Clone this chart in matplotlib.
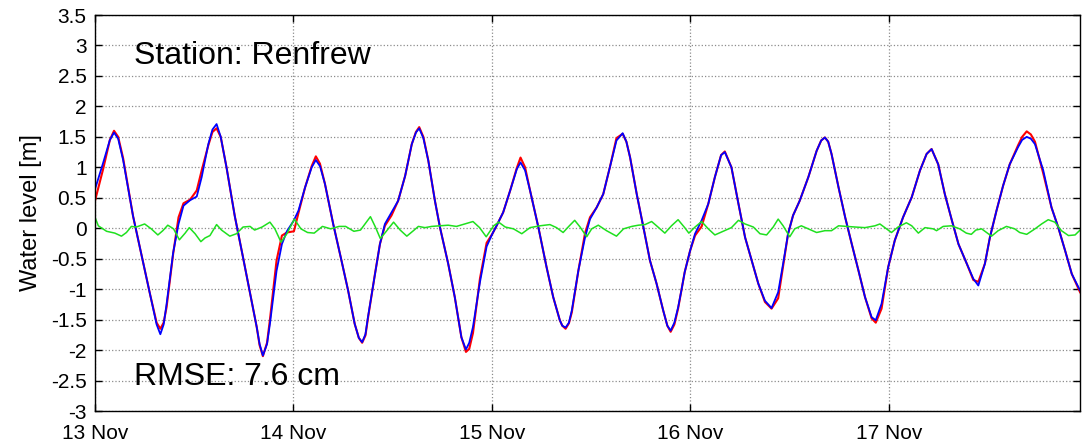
import numpy as np
import matplotlib
matplotlib.use("Agg")
import matplotlib.pyplot as plt

plt.rcParams["font.family"] = ["Liberation Sans", "DejaVu Sans"]

# hours since 13 Nov 00:00 (one line per day), water level in metres
hours = [0.0, 1.0, 1.8, 2.3, 2.8, 3.4, 4.6, 5.8, 6.65, 7.45, 7.9, 8.3, 8.65, 9.45, 10.1, 10.7, 11.5, 12.3, 12.9, 13.7, 14.2, 14.7, 15.2, 15.9, 16.9, 17.9, 18.75, 19.55, 19.9, 20.3, 20.8, 21.15, 21.95, 22.6, 23.2,
         24.05, 24.6, 25.4, 26.2, 26.7, 27.2, 27.8, 28.8, 29.8, 30.6, 31.4, 31.9, 32.3, 32.7, 33.0, 33.85, 34.45, 35.05, 35.85, 36.65, 37.5, 38.3, 38.8, 39.2, 39.7, 40.3, 41.1, 41.7, 42.7, 43.5, 44.3, 44.85, 45.25, 45.7, 46.55, 47.35,
         48.05, 48.55, 49.35, 50.2, 51.0, 51.45, 52.0, 52.6, 53.6, 54.6, 55.4, 56.2, 56.5, 56.9, 57.3, 57.65, 58.45, 59.25, 59.85, 60.65, 61.45, 62.25, 63.05, 63.8, 64.25, 64.7, 65.5, 66.3, 67.1, 67.9, 68.7, 69.2, 69.6, 70.05, 70.5, 70.9, 71.3,
         71.95, 72.55, 73.35, 74.15, 74.95, 75.7, 76.15, 76.95, 77.8, 78.6, 79.4, 80.2, 81.0, 81.8, 82.6, 83.2, 83.8, 84.4, 85.2, 86.25, 87.25, 87.8, 88.25, 88.65, 89.05, 89.9, 90.7, 91.5, 92.3, 93.1, 93.9, 94.4, 95.1, 95.9,
         96.7, 97.7, 98.75, 99.75, 100.55, 101.15, 101.95, 102.75, 103.6, 104.4, 105.4, 106.2, 106.8, 107.6, 108.2, 109.0, 109.8, 110.6, 111.6, 112.1, 112.65, 113.15, 113.65, 114.65, 115.65, 116.45, 117.3, 118.1, 119.1]

model = [0.64, 1.08, 1.45, 1.57, 1.47, 1.12, 0.20, -0.55, -1.08, -1.58, -1.74, -1.58, -1.25, -0.40, 0.07, 0.37, 0.46, 0.52, 0.84, 1.38, 1.62, 1.71, 1.50, 1.00, 0.20, -0.48, -1.07, -1.62, -1.90, -2.09, -1.90, -1.57, -0.70, -0.26, -0.05,
         0.13, 0.29, 0.67, 1.00, 1.12, 1.02, 0.73, 0.07, -0.53, -1.02, -1.57, -1.80, -1.87, -1.74, -1.46, -0.75, -0.26, 0.07, 0.26, 0.45, 0.86, 1.38, 1.57, 1.64, 1.48, 1.11, 0.45, 0.02, -0.58, -1.13, -1.79, -1.99, -1.88, -1.62, -0.88, -0.30,
         -0.09, 0.04, 0.26, 0.62, 0.97, 1.08, 0.95, 0.62, 0.02, -0.64, -1.13, -1.51, -1.60, -1.63, -1.55, -1.35, -0.69, -0.15, 0.15, 0.34, 0.56, 1.00, 1.44, 1.56, 1.42, 1.16, 0.56, 0.02, -0.53, -0.91, -1.35, -1.60, -1.68, -1.55, -1.30, -1.02, -0.72,
         -0.37, -0.09, 0.13, 0.40, 0.84, 1.20, 1.25, 1.00, 0.40, -0.15, -0.53, -0.91, -1.19, -1.31, -1.05, -0.58, -0.09, 0.21, 0.45, 0.84, 1.27, 1.44, 1.49, 1.42, 1.22, 0.67, 0.18, -0.26, -0.69, -1.13, -1.46, -1.51, -1.24, -0.64,
         -0.20, 0.18, 0.51, 0.95, 1.22, 1.30, 1.05, 0.56, 0.13, -0.26, -0.58, -0.83, -0.94, -0.58, -0.15, 0.29, 0.70, 1.05, 1.33, 1.45, 1.50, 1.47, 1.38, 0.95, 0.34, 0.02, -0.37, -0.75, -1.02]

observed = [0.45, 0.98, 1.45, 1.60, 1.50, 1.15, 0.20, -0.55, -1.08, -1.55, -1.65, -1.55, -1.30, -0.42, 0.18, 0.41, 0.47, 0.62, 0.95, 1.36, 1.58, 1.64, 1.50, 1.00, 0.20, -0.48, -1.07, -1.62, -1.92, -2.10, -1.88, -1.50, -0.53, -0.12, -0.07,
            -0.05, 0.25, 0.67, 1.02, 1.18, 1.06, 0.73, 0.07, -0.53, -1.02, -1.57, -1.80, -1.88, -1.76, -1.48, -0.75, -0.26, 0.04, 0.21, 0.45, 0.86, 1.38, 1.58, 1.66, 1.50, 1.11, 0.45, 0.02, -0.58, -1.13, -1.79, -2.03, -1.98, -1.72, -0.82, -0.24,
            -0.09, 0.04, 0.26, 0.62, 0.99, 1.16, 1.00, 0.62, 0.02, -0.64, -1.13, -1.51, -1.60, -1.65, -1.56, -1.38, -0.69, -0.08, 0.18, 0.34, 0.56, 1.00, 1.48, 1.55, 1.42, 1.16, 0.56, 0.02, -0.53, -0.91, -1.35, -1.60, -1.70, -1.58, -1.32, -1.02, -0.72,
            -0.37, -0.12, 0.03, 0.40, 0.84, 1.20, 1.26, 1.00, 0.40, -0.15, -0.53, -0.91, -1.21, -1.32, -1.15, -0.62, -0.09, 0.21, 0.45, 0.84, 1.27, 1.44, 1.49, 1.42, 1.22, 0.67, 0.18, -0.26, -0.69, -1.13, -1.48, -1.55, -1.32, -0.64,
            -0.20, 0.18, 0.51, 0.95, 1.22, 1.30, 1.05, 0.56, 0.13, -0.26, -0.58, -0.85, -0.88, -0.58, -0.15, 0.29, 0.70, 1.05, 1.36, 1.50, 1.59, 1.54, 1.42, 0.90, 0.34, 0.02, -0.37, -0.75, -1.05]

res_hours = [0.0, 0.4, 1.4, 2.4, 3.2, 3.8, 4.4, 5.0, 6.0, 6.8, 7.6, 8.2, 8.8, 9.5, 10.2, 10.9, 11.4,
             12.1, 12.8, 13.3, 13.9, 14.7, 15.3, 16.3, 17.1, 17.9, 18.75, 19.3, 20.2, 21.15,
             21.75, 22.5, 23.2, 24.1, 24.9, 25.7, 26.5, 27.5, 28.5, 29.5, 30.3, 31.3, 32.1, 33.3,
             33.9, 34.5, 35.1, 36.1, 36.9, 37.7, 38.5, 39.1, 39.9, 40.7, 41.7, 42.7, 43.7, 44.7,
             45.7, 46.5, 47.3, 48.2, 48.8, 49.6, 50.6, 51.6, 52.6, 53.8, 55.0, 55.8, 56.6, 57.35,
             58.0, 58.65, 59.45, 60.05, 60.85, 61.85, 63.05, 63.9, 64.9, 65.7, 66.5, 67.3, 67.9,
             68.9, 69.7, 70.5, 71.3, 71.8, 72.55, 73.35, 74.15, 74.95, 75.95, 76.95, 77.8, 78.6,
             79.6, 80.4, 81.2, 82.0, 82.6, 83.2, 84.0, 84.6, 85.4, 86.25, 87.25, 88.25, 89.05,
             89.9, 90.9, 91.9, 93.1, 94.3, 94.9, 96.3, 97.1, 98.1, 98.75, 99.55, 100.35, 101.35,
             101.75, 102.55, 103.55, 104.55, 105.35, 105.95, 106.5, 107.2, 107.8, 108.4, 109.2,
             110.2, 111.2, 111.8, 112.65, 113.65, 114.45, 115.25, 116.05, 116.85, 117.7, 118.5,
             119.1]

residual = [0.18, 0.04, -0.05, -0.08, -0.13, -0.07, 0.03, 0.02, 0.07, -0.01, -0.11, -0.04, 0.05,
            -0.01, -0.19, -0.08, 0.01, -0.09, -0.22, -0.16, -0.12, 0.06, -0.03, -0.13, -0.09,
            0.02, 0.03, -0.03, 0.02, 0.10, -0.01, -0.23, -0.09, 0.15, -0.01, -0.07, -0.08, 0.03,
            -0.01, 0.03, 0.03, -0.05, -0.03, 0.19, 0.02, -0.17, -0.07, 0.10, -0.03, -0.13, -0.04,
            0.03, 0.01, 0.03, 0.04, 0.05, 0.03, 0.07, 0.11, 0.01, -0.14, 0.04, 0.10, 0.02, -0.01,
            -0.09, 0.01, 0.04, 0.06, 0.01, -0.07, 0.04, 0.13, 0.02, -0.14, -0.01, 0.05, -0.04,
            -0.13, -0.01, 0.03, 0.05, 0.06, 0.11, 0.04, -0.08, 0.04, 0.14, 0.01, -0.08, 0.02, 0.11,
            -0.01, -0.11, -0.05, 0.01, 0.13, 0.07, 0.02, -0.09, -0.11, 0.02, 0.15, 0.04, -0.14,
            -0.01, 0.04, -0.01, -0.07, -0.04, -0.04, 0.04, 0.03, 0.02, 0.01, 0.04, 0.07, -0.07,
            0.02, 0.09, 0.04, -0.08, 0.01, -0.01, -0.04, 0.03, 0.04, -0.01, -0.08, -0.10, -0.03,
            -0.01, -0.07, -0.13, -0.04, 0.03, -0.01, -0.07, -0.10, -0.01, 0.07, 0.14, 0.10, -0.04,
            -0.12, -0.11, -0.03]

day_ticks = [0, 24, 48, 72, 96]
day_labels = ["13 Nov", "14 Nov", "15 Nov", "16 Nov", "17 Nov"]
level_ticks = np.arange(-3, 3.51, 0.5)

fig = plt.figure(figsize=(10.82, 4.44), dpi=100)
ax = fig.add_axes([0.0878, 0.0743, 0.9104, 0.8919])

ax.plot(hours, observed, color="red", lw=1.5)
ax.plot(hours, model, color="blue", lw=1.3)
ax.plot(res_hours, residual, color="#1fe01f", lw=1.1)

ax.set_xlim(0, 119.1)
ax.set_ylim(-3, 3.5)
ax.set_xticks(day_ticks)
ax.set_xticklabels(day_labels)
ax.set_yticks(level_ticks)
ax.set_yticklabels([f"{v:g}" for v in level_ticks])
ax.tick_params(direction="in", top=True, right=True, length=5, width=1, labelsize=15)
ax.tick_params(axis="x", pad=9)
ax.tick_params(axis="y", pad=6)
ax.grid(True, linestyle=":", color="#8c8c8c", linewidth=0.9)
for s in ax.spines.values():
    s.set_linewidth(1.0)

ax.set_ylabel("Water level [m]", fontsize=17, labelpad=6)

ax.text(0.0396, 0.876, "Station: Renfrew", transform=ax.transAxes,
        fontsize=23, va="baseline", ha="left")
ax.text(0.0396, 0.0657, "RMSE: 7.6 cm", transform=ax.transAxes,
        fontsize=23, va="baseline", ha="left")

fig.savefig("out.png", dpi=100)
